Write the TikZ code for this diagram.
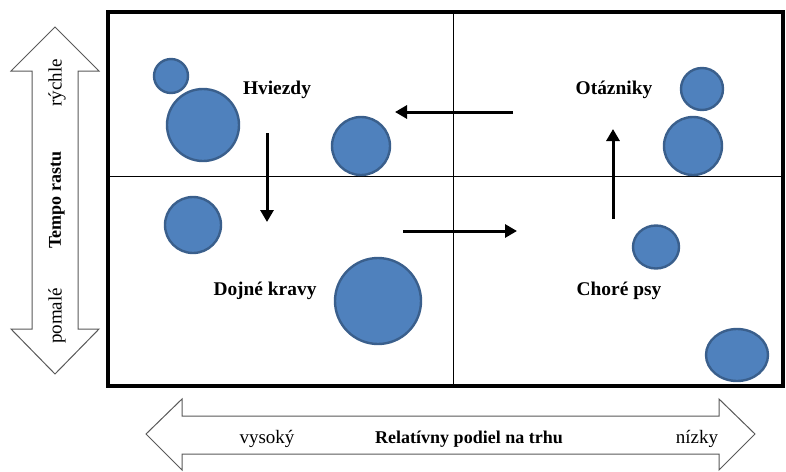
\documentclass[tikz,border=0pt]{standalone}
\usepackage{fontspec}
\setmainfont{Liberation Serif}
\usetikzlibrary{arrows.meta,shapes.geometric}
\definecolor{bcgModra}{HTML}{4F81BD}
\definecolor{bcgOkraj}{HTML}{3A5F8C}
\definecolor{bcgSiva}{HTML}{595959}
\tikzset{
  bublina/.style={circle, draw=bcgOkraj, line width=1.2pt, fill=bcgModra,
    inner sep=0pt},
  bublinaOval/.style={ellipse, draw=bcgOkraj, line width=1.2pt, fill=bcgModra,
    inner sep=0pt},
  kvadrant/.style={font=\fontsize{9.7}{12}\selectfont\bfseries, inner sep=1pt},
  popis/.style={font=\fontsize{9.5}{12}\selectfont, inner sep=1pt},
  popisTucny/.style={font=\fontsize{9}{12}\selectfont\bfseries, inner sep=1pt},
  sipkaBcg/.style={-{Triangle[length=6pt,width=6.5pt]}, line width=1.5pt},
  osSipka/.style={draw=bcgSiva, line width=0.5pt, fill=white},
  deliaca/.style={line width=0.5pt},
}

\begin{document}
\begin{tikzpicture}[x=0.5pt, y=-0.5pt]
    \useasboundingbox (0,0) rectangle (786,471);
    % osi
    \draw[osSipka] (55,27) -- (99,71) -- (78,71) -- (78,329) -- (99,329) -- (55,374)
      -- (11,329) -- (32,329) -- (32,71) -- (11,71) -- cycle;
    \draw[osSipka] (146,434) -- (182,399) -- (182,416) -- (719,416) -- (719,399) -- (755,434)
      -- (719,470) -- (719,454) -- (182,454) -- (182,470) -- cycle;
    \node[popis, rotate=90] (rychle) at (57,83) {rýchle};
    \node[popisTucny, rotate=90] (tempo) at (57,200) {Tempo rastu};
    \node[popis, rotate=90] (pomale) at (57,316) {pomalé};
    \node[popis] (vysoky) at (267,439) {vysoký};
    \node[popisTucny] (podiel) at (469,439) {Relatívny podiel na trhu};
    \node[popis] (nizky) at (697,439) {nízky};
    % matica
    \draw[deliaca] (453,12) -- (453,386);
    \draw[deliaca] (108,176) -- (783,176);
    \draw[line width=2pt] (108,12) rectangle (783,386);
    % bubliny
    \node[bublina, minimum size=17pt] (b1) at (171,76) {};
    \node[bublina, minimum size=36pt] (b2) at (203,125) {};
    \node[bublina, minimum size=29pt] (b3) at (361,146) {};
    \node[bublina, minimum size=28pt] (b4) at (193,225) {};
    \node[bublina, minimum size=43pt] (b5) at (378,301) {};
    \node[bublina, minimum size=21pt] (b6) at (702,89) {};
    \node[bublina, minimum size=29pt] (b7) at (693,146) {};
    \node[bublinaOval, minimum width=23pt, minimum height=21.5pt] (b8) at (656,247) {};
    \node[bublinaOval, minimum width=31pt, minimum height=26pt] (b9) at (737,355) {};
    % kvadranty
    \node[kvadrant] (hviezdy) at (277,90) {Hviezdy};
    \node[kvadrant] (otazniky) at (614,90) {Otázniky};
    \node[kvadrant] (kravy) at (265,291) {Dojné kravy};
    \node[kvadrant] (psy) at (619,291) {Choré psy};
    % sipky
    \coordinate (s1a) at (513,112);
    \coordinate (s1b) at (395,112);
    \coordinate (s2a) at (267,133);
    \coordinate (s2b) at (267,222);
    \coordinate (s3a) at (403,231);
    \coordinate (s3b) at (517,231);
    \coordinate (s4a) at (613,219);
    \coordinate (s4b) at (613,129);
    \draw[sipkaBcg] (s1a) -- (s1b);
    \draw[sipkaBcg] (s2a) -- (s2b);
    \draw[sipkaBcg] (s3a) -- (s3b);
    \draw[sipkaBcg] (s4a) -- (s4b);
  \end{tikzpicture}
\end{document}
